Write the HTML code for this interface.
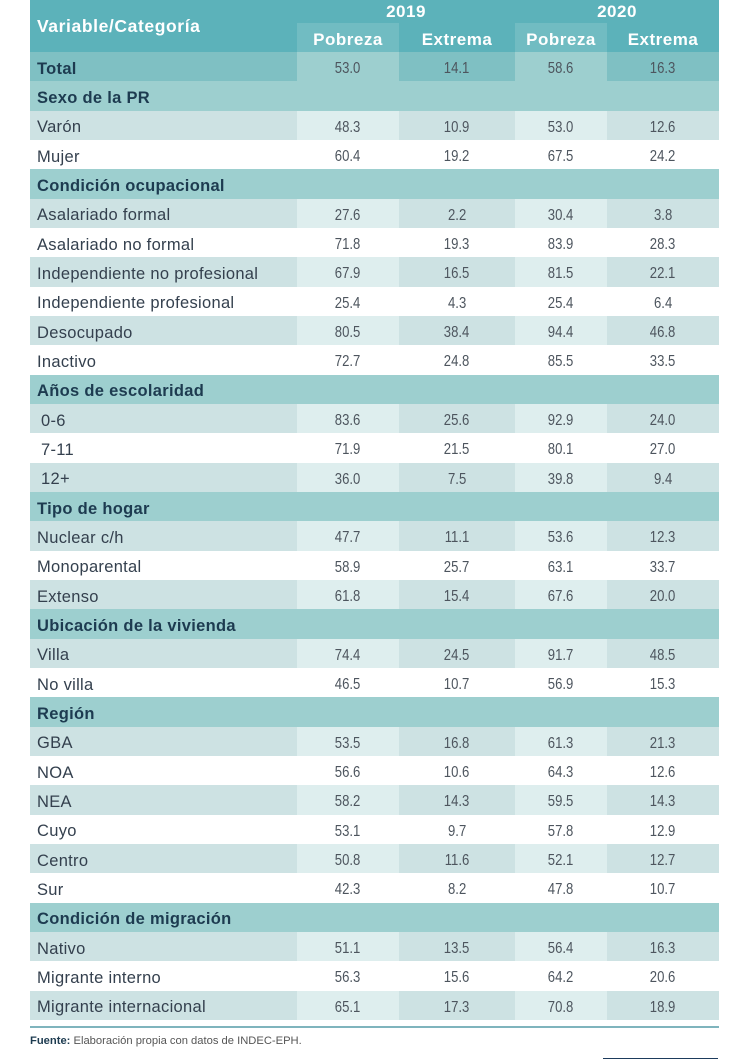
<!DOCTYPE html>
<html><head><meta charset="utf-8">
<style>
*{margin:0;padding:0;box-sizing:border-box}
html,body{width:750px;height:1059px;background:#fff;overflow:hidden}
body{position:relative;font-family:"Liberation Sans",sans-serif}
.hdr{position:absolute;left:30px;top:0;width:689px;height:52px;background:#5cb2ba}
.ht{position:absolute;color:#fff;font-weight:bold;font-size:17px;letter-spacing:0.5px;line-height:20px;white-space:nowrap}
.hp{position:absolute;top:23px;height:29px;background:#71bcc2}
.body{position:absolute;left:30px;top:52px;width:689px}
.r{display:flex;height:29.33px;align-items:stretch}
.r>div{display:flex;align-items:center;justify-content:center;white-space:nowrap;padding-top:5px}
.c0{width:267px;justify-content:flex-start!important;padding-left:7px;font-size:16.5px;letter-spacing:0.3px;color:#34404e}
.c1{width:102px}.c2{width:116px}.c3{width:92px}.c4{width:112px}
.n span{display:inline-block;font-size:16px;color:#4d555e;transform:scaleX(0.82)}
.cat>div{background:#9dcfcf}
.cat .c0{font-weight:bold;color:#1d3b50;letter-spacing:0.3px}
.tot .c0,.tot .c2,.tot .c4{background:#7fc0c3}
.tot .c1,.tot .c3{background:#9dcfcf}
.tot .c0{font-weight:bold;color:#1d3b50;letter-spacing:0.3px}
.lt .c0,.lt .c2,.lt .c4{background:#cde2e3}
.lt .c1,.lt .c3{background:#deeeee}
.wt>div{background:#fff}
.ind{padding-left:11px!important}
.line{position:absolute;left:30px;top:1026px;width:689px;height:1.5px;background:#7fb4bd}
.foot{position:absolute;left:30px;top:1034px;font-size:11.2px;color:#555;line-height:14px;white-space:nowrap}
.foot b{color:#1d3b50}
.nav{position:absolute;left:603px;top:1058px;width:115px;height:1px;background:#1d3b5c}
</style></head><body>
<div class="hdr">
  <div class="hp" style="left:267px;width:102px"></div>
  <div class="hp" style="left:485px;width:92px"></div>
  <div class="ht" style="left:7px;top:16px;font-size:17.5px;letter-spacing:0.6px">Variable/Categoría</div>
  <div class="ht" style="left:267px;width:218px;top:2px;text-align:center">2019</div>
  <div class="ht" style="left:485px;width:204px;top:2px;text-align:center">2020</div>
  <div class="ht" style="left:267px;width:102px;top:30px;text-align:center">Pobreza</div>
  <div class="ht" style="left:369px;width:116px;top:30px;text-align:center">Extrema</div>
  <div class="ht" style="left:485px;width:92px;top:30px;text-align:center">Pobreza</div>
  <div class="ht" style="left:577px;width:112px;top:30px;text-align:center">Extrema</div>
</div>
<div class="body">
<div class="r tot"><div class="c0">Total</div><div class="c1 n"><span>53.0</span></div><div class="c2 n"><span>14.1</span></div><div class="c3 n"><span>58.6</span></div><div class="c4 n"><span>16.3</span></div></div>
<div class="r cat"><div class="c0">Sexo de la PR</div><div class="c1"></div><div class="c2"></div><div class="c3"></div><div class="c4"></div></div>
<div class="r lt"><div class="c0">Varón</div><div class="c1 n"><span>48.3</span></div><div class="c2 n"><span>10.9</span></div><div class="c3 n"><span>53.0</span></div><div class="c4 n"><span>12.6</span></div></div>
<div class="r wt"><div class="c0">Mujer</div><div class="c1 n"><span>60.4</span></div><div class="c2 n"><span>19.2</span></div><div class="c3 n"><span>67.5</span></div><div class="c4 n"><span>24.2</span></div></div>
<div class="r cat"><div class="c0">Condición ocupacional</div><div class="c1"></div><div class="c2"></div><div class="c3"></div><div class="c4"></div></div>
<div class="r lt"><div class="c0">Asalariado formal</div><div class="c1 n"><span>27.6</span></div><div class="c2 n"><span>2.2</span></div><div class="c3 n"><span>30.4</span></div><div class="c4 n"><span>3.8</span></div></div>
<div class="r wt"><div class="c0">Asalariado no formal</div><div class="c1 n"><span>71.8</span></div><div class="c2 n"><span>19.3</span></div><div class="c3 n"><span>83.9</span></div><div class="c4 n"><span>28.3</span></div></div>
<div class="r lt"><div class="c0">Independiente no profesional</div><div class="c1 n"><span>67.9</span></div><div class="c2 n"><span>16.5</span></div><div class="c3 n"><span>81.5</span></div><div class="c4 n"><span>22.1</span></div></div>
<div class="r wt"><div class="c0">Independiente profesional</div><div class="c1 n"><span>25.4</span></div><div class="c2 n"><span>4.3</span></div><div class="c3 n"><span>25.4</span></div><div class="c4 n"><span>6.4</span></div></div>
<div class="r lt"><div class="c0">Desocupado</div><div class="c1 n"><span>80.5</span></div><div class="c2 n"><span>38.4</span></div><div class="c3 n"><span>94.4</span></div><div class="c4 n"><span>46.8</span></div></div>
<div class="r wt"><div class="c0">Inactivo</div><div class="c1 n"><span>72.7</span></div><div class="c2 n"><span>24.8</span></div><div class="c3 n"><span>85.5</span></div><div class="c4 n"><span>33.5</span></div></div>
<div class="r cat"><div class="c0">Años de escolaridad</div><div class="c1"></div><div class="c2"></div><div class="c3"></div><div class="c4"></div></div>
<div class="r lt"><div class="c0 ind">0-6</div><div class="c1 n"><span>83.6</span></div><div class="c2 n"><span>25.6</span></div><div class="c3 n"><span>92.9</span></div><div class="c4 n"><span>24.0</span></div></div>
<div class="r wt"><div class="c0 ind">7-11</div><div class="c1 n"><span>71.9</span></div><div class="c2 n"><span>21.5</span></div><div class="c3 n"><span>80.1</span></div><div class="c4 n"><span>27.0</span></div></div>
<div class="r lt"><div class="c0 ind">12+</div><div class="c1 n"><span>36.0</span></div><div class="c2 n"><span>7.5</span></div><div class="c3 n"><span>39.8</span></div><div class="c4 n"><span>9.4</span></div></div>
<div class="r cat"><div class="c0">Tipo de hogar</div><div class="c1"></div><div class="c2"></div><div class="c3"></div><div class="c4"></div></div>
<div class="r lt"><div class="c0">Nuclear c/h</div><div class="c1 n"><span>47.7</span></div><div class="c2 n"><span>11.1</span></div><div class="c3 n"><span>53.6</span></div><div class="c4 n"><span>12.3</span></div></div>
<div class="r wt"><div class="c0">Monoparental</div><div class="c1 n"><span>58.9</span></div><div class="c2 n"><span>25.7</span></div><div class="c3 n"><span>63.1</span></div><div class="c4 n"><span>33.7</span></div></div>
<div class="r lt"><div class="c0">Extenso</div><div class="c1 n"><span>61.8</span></div><div class="c2 n"><span>15.4</span></div><div class="c3 n"><span>67.6</span></div><div class="c4 n"><span>20.0</span></div></div>
<div class="r cat"><div class="c0">Ubicación de la vivienda</div><div class="c1"></div><div class="c2"></div><div class="c3"></div><div class="c4"></div></div>
<div class="r lt"><div class="c0">Villa</div><div class="c1 n"><span>74.4</span></div><div class="c2 n"><span>24.5</span></div><div class="c3 n"><span>91.7</span></div><div class="c4 n"><span>48.5</span></div></div>
<div class="r wt"><div class="c0">No villa</div><div class="c1 n"><span>46.5</span></div><div class="c2 n"><span>10.7</span></div><div class="c3 n"><span>56.9</span></div><div class="c4 n"><span>15.3</span></div></div>
<div class="r cat"><div class="c0">Región</div><div class="c1"></div><div class="c2"></div><div class="c3"></div><div class="c4"></div></div>
<div class="r lt"><div class="c0">GBA</div><div class="c1 n"><span>53.5</span></div><div class="c2 n"><span>16.8</span></div><div class="c3 n"><span>61.3</span></div><div class="c4 n"><span>21.3</span></div></div>
<div class="r wt"><div class="c0">NOA</div><div class="c1 n"><span>56.6</span></div><div class="c2 n"><span>10.6</span></div><div class="c3 n"><span>64.3</span></div><div class="c4 n"><span>12.6</span></div></div>
<div class="r lt"><div class="c0">NEA</div><div class="c1 n"><span>58.2</span></div><div class="c2 n"><span>14.3</span></div><div class="c3 n"><span>59.5</span></div><div class="c4 n"><span>14.3</span></div></div>
<div class="r wt"><div class="c0">Cuyo</div><div class="c1 n"><span>53.1</span></div><div class="c2 n"><span>9.7</span></div><div class="c3 n"><span>57.8</span></div><div class="c4 n"><span>12.9</span></div></div>
<div class="r lt"><div class="c0">Centro</div><div class="c1 n"><span>50.8</span></div><div class="c2 n"><span>11.6</span></div><div class="c3 n"><span>52.1</span></div><div class="c4 n"><span>12.7</span></div></div>
<div class="r wt"><div class="c0">Sur</div><div class="c1 n"><span>42.3</span></div><div class="c2 n"><span>8.2</span></div><div class="c3 n"><span>47.8</span></div><div class="c4 n"><span>10.7</span></div></div>
<div class="r cat"><div class="c0">Condición de migración</div><div class="c1"></div><div class="c2"></div><div class="c3"></div><div class="c4"></div></div>
<div class="r lt"><div class="c0">Nativo</div><div class="c1 n"><span>51.1</span></div><div class="c2 n"><span>13.5</span></div><div class="c3 n"><span>56.4</span></div><div class="c4 n"><span>16.3</span></div></div>
<div class="r wt"><div class="c0">Migrante interno</div><div class="c1 n"><span>56.3</span></div><div class="c2 n"><span>15.6</span></div><div class="c3 n"><span>64.2</span></div><div class="c4 n"><span>20.6</span></div></div>
<div class="r lt"><div class="c0">Migrante internacional</div><div class="c1 n"><span>65.1</span></div><div class="c2 n"><span>17.3</span></div><div class="c3 n"><span>70.8</span></div><div class="c4 n"><span>18.9</span></div></div>
</div>
<div class="line"></div>
<div class="foot"><b>Fuente:</b> Elaboración propia con datos de INDEC-EPH.</div>
<div class="nav"></div>
</body></html>
